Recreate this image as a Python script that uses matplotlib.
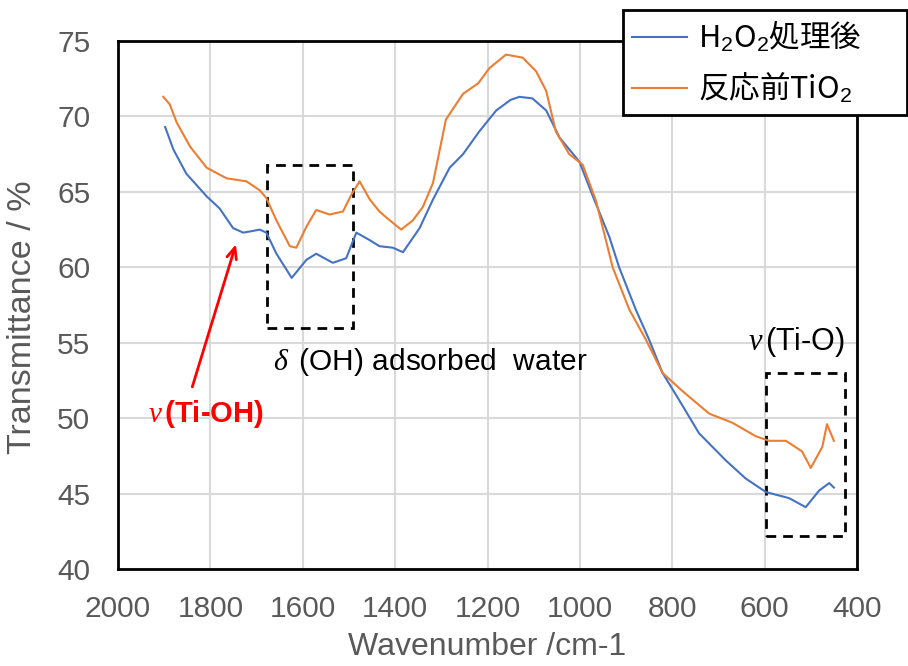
import matplotlib
matplotlib.use('Agg')
import matplotlib.pyplot as plt
from matplotlib.patches import Rectangle

plt.rcParams['font.family'] = ['Liberation Sans', 'Noto Sans CJK JP', 'DejaVu Sans']
plt.rcParams['mathtext.fontset'] = 'custom'
plt.rcParams['mathtext.rm'] = 'Liberation Sans'
plt.rcParams['mathtext.it'] = 'Liberation Serif:italic'

# H2O2-treated sample (blue)
blue_wn = [1898, 1880, 1852, 1808, 1780, 1751, 1729, 1710, 1693, 1679, 1657, 1624,
           1592, 1571, 1535, 1506, 1484, 1455, 1434, 1405, 1383, 1347, 1318, 1282,
           1253, 1218, 1181, 1150, 1131, 1103, 1073, 1044, 1001, 973, 936, 915,
           879, 850, 821, 785, 742, 684, 641, 597, 547, 511, 482, 460, 450]
blue_t = [69.3, 67.8, 66.2, 64.7, 63.9, 62.6, 62.3, 62.4, 62.5, 62.3, 60.9, 59.3,
          60.5, 60.9, 60.3, 60.6, 62.3, 61.8, 61.4, 61.3, 61.0, 62.6, 64.5, 66.6,
          67.5, 69.0, 70.4, 71.1, 71.3, 71.2, 70.4, 68.6, 67.0, 64.8, 62.0, 60.0,
          57.2, 55.2, 53.0, 51.2, 49.0, 47.2, 46.0, 45.1, 44.7, 44.1, 45.2, 45.7, 45.4]

# TiO2 before reaction (orange)
orange_wn = [1902, 1888, 1873, 1844, 1808, 1765, 1722, 1693, 1679, 1657, 1628, 1614,
             1592, 1571, 1542, 1513, 1495, 1477, 1455, 1434, 1419, 1387, 1362, 1340,
             1318, 1290, 1253, 1220, 1196, 1160, 1124, 1095, 1073, 1052, 1023, 994,
             965, 929, 893, 857, 821, 778, 720, 670, 619, 590, 554, 519, 500, 475, 465, 450]
orange_t = [71.3, 70.8, 69.6, 68.0, 66.6, 65.9, 65.7, 65.1, 64.6, 63.1, 61.4, 61.3,
            62.7, 63.8, 63.5, 63.7, 64.8, 65.7, 64.5, 63.7, 63.3, 62.5, 63.1, 64.0,
            65.6, 69.8, 71.5, 72.2, 73.2, 74.1, 73.9, 73.0, 71.7, 69.0, 67.5, 66.8,
            64.4, 60.0, 57.2, 55.2, 53.0, 51.8, 50.3, 49.7, 48.8, 48.5, 48.5, 47.8, 46.7, 48.1, 49.6, 48.5]

labels = ['H$_2$O$_2$処理後', '反応前TiO$_2$']
x_ticks = [2000, 1800, 1600, 1400, 1200, 1000, 800, 600, 400]
y_ticks = [40, 45, 50, 55, 60, 65, 70, 75]

fig = plt.figure(figsize=(9.08, 6.66), dpi=100)
ax = fig.add_axes([0.13, 0.1456, 0.8138, 0.7928])

ax.plot(blue_wn, blue_t, color='#4472C4', lw=1.5, label=labels[0])
ax.plot(orange_wn, orange_t, color='#ED7D31', lw=1.5, label=labels[1])

ax.set_xlim(2000, 400)
ax.set_ylim(40, 75)
ax.set_xticks(x_ticks)
ax.set_yticks(y_ticks)
ax.grid(True, color='#d9d9d9', lw=1.5)
ax.set_axisbelow(True)
ax.tick_params(length=0, labelsize=21.5, labelcolor='#595959')
ax.tick_params(axis='x', pad=19)
ax.tick_params(axis='y', pad=20)
for s in ax.spines.values():
    s.set_color('black')
    s.set_linewidth(2)

ax.set_xlabel('Wavenumber /cm-1', fontsize=23, color='#595959', labelpad=6)
ax.set_ylabel('Transmittance / %', fontsize=24.5, color='#595959')
ax.yaxis.set_label_coords(-0.108, 0.477)

# dashed boxes
ax.add_patch(Rectangle((1678, 55.95), 1491 - 1678, 66.8 - 55.95, fill=False,
                       ec='black', lw=2, ls=(0, (3.5, 2.5))))
ax.add_patch(Rectangle((597, 42.2), 425 - 597, 53.0 - 42.2, fill=False,
                       ec='black', lw=2, ls=(0, (3.5, 2.5))))

# annotations
ax.annotate('', xy=(1743, 61.7), xytext=(1841, 51.9),
            arrowprops=dict(arrowstyle='->,head_width=0.35,head_length=0.8', color='red', lw=2))
ax.text(1809, 50.3, r'$\nu\,$(Ti-OH)', color='red', fontsize=21, fontweight='bold',
        ha='center', va='center', family='Liberation Sans')
ax.text(1325, 53.7, r'$\delta\,$ (OH) adsorbed  water', fontsize=21.5,
        ha='center', va='center', family='Liberation Sans')
ax.text(530, 55.05, r'$\nu\,$(Ti-O)', fontsize=22,
        ha='center', va='center', family='Liberation Sans')

leg = ax.legend(loc='upper left', mode='expand',
                bbox_to_anchor=(623 / 908, 1 - 113 / 666, 284 / 908, 103 / 666),
                bbox_transform=fig.transFigure, borderaxespad=0,
                prop={'family': 'Noto Sans CJK JP', 'size': 22},
                frameon=True, fancybox=False, framealpha=1, edgecolor='black',
                handlelength=1.8, handletextpad=0.35, labelspacing=0.55, borderpad=0.3)
leg.get_frame().set_linewidth(2)

fig.savefig('out.png', dpi=100)
